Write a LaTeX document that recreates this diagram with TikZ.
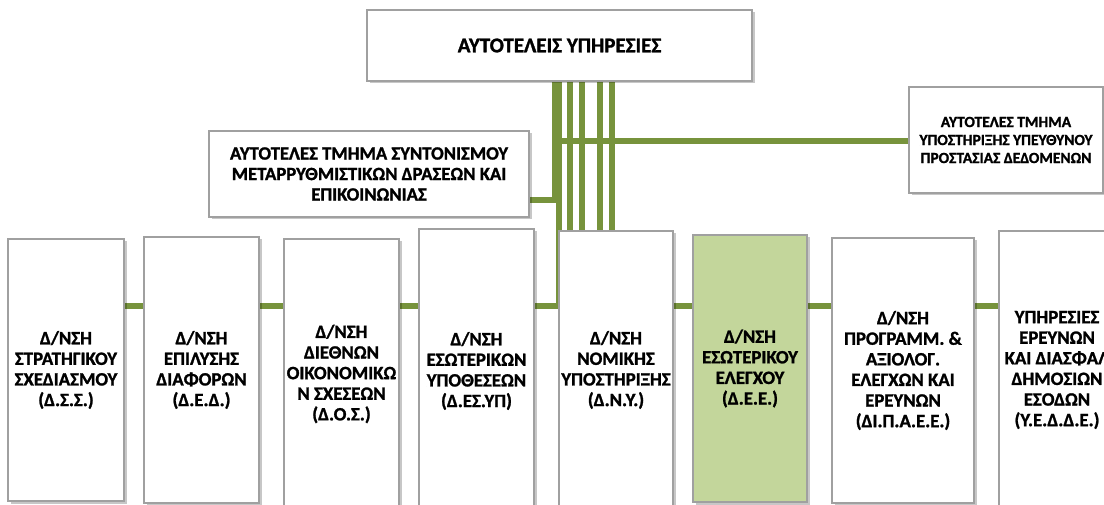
\documentclass[tikz,border=0pt]{standalone}
\usepackage{fontspec}
\setmainfont{Carlito}[BoldFeatures={FakeBold=1.3}]
\usetikzlibrary{shadows}
\definecolor{conngreen}{HTML}{77933C}
\definecolor{boxgray}{HTML}{A0A0A0}
\definecolor{deefill}{HTML}{C3D69B}
\tikzset{
  orgbox/.style={draw=boxgray, line width=1.2pt, fill=white, align=center,
    inner sep=0pt, outer sep=0pt, font=\bfseries\fontsize{18.8}{20.6}\selectfont,
    drop shadow={shadow xshift=2.5pt, shadow yshift=-2.5pt, opacity=0.22, fill=black}},
  place/.style={inner sep=0pt, outer sep=0pt},
  conn/.style={draw=conngreen, line width=6pt},
  thinconn/.style={draw=conngreen, line width=5.5pt}
}
\begin{document}
\begin{tikzpicture}[x=1pt,y=-1pt]
\useasboundingbox (0,0) rectangle (1104,505);
% named coordinates for connector routing
\coordinate (vA) at (555,0);
\coordinate (vB) at (559,0);
\coordinate (vC) at (570,0);
\coordinate (vD) at (582,0);
\coordinate (vE) at (600,0);
\coordinate (vF) at (612,0);
\coordinate (bar) at (0,306);
\coordinate (hR) at (0,141);
\coordinate (hL) at (0,200);
% placeholder frames of the boxes (for routing connectors behind them)
\path (559.5,45.5) node[place, minimum width=385pt, minimum height=71pt] (topP) {};
\path (369,174) node[place, minimum width=320pt, minimum height=86pt] (midP) {};
\path (1006,140) node[place, minimum width=194pt, minimum height=106pt] (rightP) {};
\path (66,370) node[place, minimum width=116pt, minimum height=262pt] (b1P) {};
\path (201.5,370) node[place, minimum width=115pt, minimum height=266pt] (b2P) {};
\path (341.5,374) node[place, minimum width=115pt, minimum height=270pt] (b3P) {};
\path (476.5,371) node[place, minimum width=115pt, minimum height=284pt] (b4P) {};
\path (616,370) node[place, minimum width=114pt, minimum height=278pt] (b5P) {};
\path (750,368.5) node[place, minimum width=114pt, minimum height=267pt] (b6P) {};
\path (903,370.5) node[place, minimum width=142pt, minimum height=265pt] (b7P) {};
\path (1057,370) node[place, minimum width=116pt, minimum height=278pt] (b8P) {};

% --- connectors (behind boxes) ---
\draw[conn] (topP.south -| vA) -- (vA |- hL) -- (midP.east |- hL);
\draw[conn] (topP.south -| vB) -- (vB |- bar) -- (b4P.east |- bar);
\draw[conn] (topP.south -| vB) -- (vB |- hR) -- (rightP.west |- hR);
\draw[thinconn] (topP.south -| vC) -- (b5P.north -| vC);
\draw[thinconn] (topP.south -| vD) -- (b5P.north -| vD);
\draw[thinconn] (topP.south -| vE) -- (b5P.north -| vE);
\draw[thinconn] (topP.south -| vF) -- (b5P.north -| vF);
\draw[conn] (b1P.east |- bar) -- (b2P.west |- bar);
\draw[conn] (b2P.east |- bar) -- (b3P.west |- bar);
\draw[conn] (b3P.east |- bar) -- (b4P.west |- bar);
\draw[conn] (b5P.east |- bar) -- (b6P.west |- bar);
\draw[conn] (b6P.east |- bar) -- (b7P.west |- bar);
\draw[conn] (b7P.east |- bar) -- (b8P.west |- bar);

% --- boxes ---
\node[orgbox, minimum width=385pt, minimum height=71pt, font=\bfseries\fontsize{21}{24}\selectfont] (top) at (topP) {ΑΥΤΟΤΕΛΕΙΣ ΥΠΗΡΕΣΙΕΣ};
\node[orgbox, minimum width=320pt, minimum height=86pt, font=\bfseries\fontsize{18.7}{20.5}\selectfont] (mid) at (midP)
  {ΑΥΤΟΤΕΛΕΣ ΤΜΗΜΑ ΣΥΝΤΟΝΙΣΜΟΥ\\ΜΕΤΑΡΡΥΘΜΙΣΤΙΚΩΝ ΔΡΑΣΕΩΝ ΚΑΙ\\ΕΠΙΚΟΙΝΩΝΙΑΣ};
\node[orgbox, minimum width=194pt, minimum height=106pt, font=\bfseries\fontsize{15.5}{18}\selectfont] (right) at (rightP)
  {ΑΥΤΟΤΕΛΕΣ ΤΜΗΜΑ\\ΥΠΟΣΤΗΡΙΞΗΣ ΥΠΕΥΘΥΝΟΥ\\ΠΡΟΣΤΑΣΙΑΣ ΔΕΔΟΜΕΝΩΝ};
\node[orgbox, minimum width=116pt, minimum height=262pt] (b1) at (b1P)
  {Δ/ΝΣΗ\\ΣΤΡΑΤΗΓΙΚΟΥ\\ΣΧΕΔΙΑΣΜΟΥ\\(Δ.Σ.Σ.)};
\node[orgbox, minimum width=115pt, minimum height=266pt] (b2) at (b2P)
  {Δ/ΝΣΗ\\ΕΠΙΛΥΣΗΣ\\ΔΙΑΦΟΡΩΝ\\(Δ.Ε.Δ.)};
\node[orgbox, minimum width=115pt, minimum height=270pt] (b3) at (b3P)
  {Δ/ΝΣΗ\\ΔΙΕΘΝΩΝ\\ΟΙΚΟΝΟΜΙΚΩ\\Ν ΣΧΕΣΕΩΝ\\(Δ.Ο.Σ.)};
\node[orgbox, minimum width=115pt, minimum height=284pt] (b4) at (b4P)
  {Δ/ΝΣΗ\\ΕΣΩΤΕΡΙΚΩΝ\\ΥΠΟΘΕΣΕΩΝ\\(Δ.ΕΣ.ΥΠ)};
\node[orgbox, minimum width=114pt, minimum height=278pt] (b5) at (b5P)
  {Δ/ΝΣΗ\\ΝΟΜΙΚΗΣ\\ΥΠΟΣΤΗΡΙΞΗΣ\\(Δ.Ν.Υ.)};
\node[orgbox, fill=deefill, minimum width=114pt, minimum height=267pt] (b6) at (b6P)
  {Δ/ΝΣΗ\\ΕΣΩΤΕΡΙΚΟΥ\\ΕΛΕΓΧΟΥ\\(Δ.Ε.Ε.)};
\node[orgbox, minimum width=142pt, minimum height=265pt] (b7) at (b7P)
  {Δ/ΝΣΗ\\ΠΡΟΓΡΑΜΜ. \&\\ΑΞΙΟΛΟΓ.\\ΕΛΕΓΧΩΝ ΚΑΙ\\ΕΡΕΥΝΩΝ\\(ΔΙ.Π.Α.Ε.Ε.)};
\node[orgbox, minimum width=116pt, minimum height=278pt] (b8) at (b8P)
  {ΥΠΗΡΕΣΙΕΣ\\ΕΡΕΥΝΩΝ\\ΚΑΙ ΔΙΑΣΦΑΛ\\ΔΗΜΟΣΙΩΝ\\ΕΣΟΔΩΝ\\(Υ.Ε.Δ.Δ.Ε.)};
\end{tikzpicture}
\end{document}
